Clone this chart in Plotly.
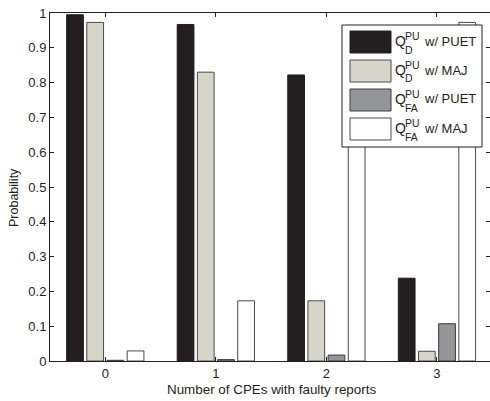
import plotly.graph_objects as go

# ---- data ----
categories = [0, 1, 2, 3]
qd_puet = [0.995, 0.967, 0.822, 0.238]
qd_maj = [0.973, 0.830, 0.173, 0.028]
qfa_puet = [0.002, 0.004, 0.017, 0.107]
qfa_maj = [0.029, 0.173, 0.850, 0.973]

series_names = ["Q_D^PU w/ PUET", "Q_D^PU w/ MAJ", "Q_FA^PU w/ PUET", "Q_FA^PU w/ MAJ"]
legend_subs = ["D", "D", "FA", "FA"]
legend_methods = ["PUET", "MAJ", "PUET", "MAJ"]
y_ticks = [0, 0.1, 0.2, 0.3, 0.4, 0.5, 0.6, 0.7, 0.8, 0.9, 1]
y_tick_text = ["0", "0.1", "0.2", "0.3", "0.4", "0.5", "0.6", "0.7", "0.8", "0.9", "1"]

fills = ["#231f20", "#d7d4ca", "#939598", "#ffffff"]
lines = ["#231f20", "#4a4a4a", "#3a3a3a", "#4a4a4a"]

FONT = "Liberation Sans, Arial, Helvetica, sans-serif"
W, H = 490, 401
ML, MR, MT, MB = 50, 0, 13, 40
PW, PH = W - ML - MR, H - MT - MB

def px(x):
    return (x - ML) / PW

def py(y):
    return (H - MB - y) / PH

fig = go.Figure()
for name, vals, fc, lc in zip(series_names, [qd_puet, qd_maj, qfa_puet, qfa_maj], fills, lines):
    fig.add_trace(go.Bar(x=categories, y=vals, name=name, marker=dict(color=fc, line=dict(color=lc, width=1)),
                         showlegend=False))

shapes = []
annotations = []
# legend box
shapes.append(dict(type="rect", xref="paper", yref="paper", x0=px(342), x1=px(482), y0=py(147), y1=py(25),
                   line=dict(color="#231f20", width=1), fillcolor="white", layer="above"))
for i, (sub, meth) in enumerate(zip(legend_subs, legend_methods)):
    top = 31 + 29 * i
    shapes.append(dict(type="rect", xref="paper", yref="paper", x0=px(350), x1=px(391), y0=py(top + 22), y1=py(top),
                       line=dict(color=lines[i], width=1), fillcolor=fills[i], layer="above"))
    cy = top + 11
    annotations.append(dict(text="Q", xref="paper", yref="paper", x=px(392.5), y=py(cy - 1), xanchor="left",
                            yanchor="middle", showarrow=False, font=dict(size=14, family=FONT, color="#231f20")))
    annotations.append(dict(text="PU", xref="paper", yref="paper", x=px(403), y=py(cy - 6.5), xanchor="left",
                            yanchor="middle", showarrow=False, font=dict(size=10.5, family=FONT, color="#231f20")))
    annotations.append(dict(text=sub, xref="paper", yref="paper", x=px(403), y=py(cy + 7.5), xanchor="left",
                            yanchor="middle", showarrow=False, font=dict(size=10.5, family=FONT, color="#231f20")))
    annotations.append(dict(text="w/ " + meth, xref="paper", yref="paper", x=px(422), y=py(cy - 1), xanchor="left",
                            yanchor="middle", showarrow=False, font=dict(size=13, family=FONT, color="#231f20")))

annotations.append(dict(text="Probability", xref="paper", yref="paper", x=px(14), y=py(198), textangle=-90,
                        xanchor="center", yanchor="middle", showarrow=False,
                        font=dict(size=12.5, family=FONT, color="#231f20")))
annotations.append(dict(text="Number of CPEs with faulty reports", xref="paper", yref="paper", x=px(271), y=py(389),
                        xanchor="center", yanchor="middle", showarrow=False,
                        font=dict(size=13.4, family=FONT, color="#231f20")))

fig.update_layout(
    width=W, height=H,
    margin=dict(l=ML, r=MR, t=MT, b=MB, pad=0),
    paper_bgcolor="white", plot_bgcolor="white",
    barmode="group", bargap=0.27, bargroupgap=0.17,
    font=dict(family=FONT, size=12, color="#231f20"),
    shapes=shapes, annotations=annotations,
    xaxis=dict(range=[-0.5, 3.48], tickvals=categories, ticktext=[str(c) for c in categories],
               showline=True, linecolor="#231f20", linewidth=1, mirror="ticks",
               ticks="inside", ticklen=4, tickcolor="#231f20", showgrid=False, zeroline=False,
               tickfont=dict(size=13)),
    yaxis=dict(range=[0, 1], tickvals=y_ticks, ticktext=y_tick_text,
               showline=True, linecolor="#231f20", linewidth=1, mirror="ticks",
               ticks="inside", ticklen=4, tickcolor="#231f20", showgrid=False, zeroline=False,
               tickfont=dict(size=13)),
)

fig.write_html("out.html", config={"displayModeBar": False, "staticPlot": True},
               post_script="document.body.style.margin='0';document.body.style.padding='0';"
                           "document.body.style.overflow='hidden';")
